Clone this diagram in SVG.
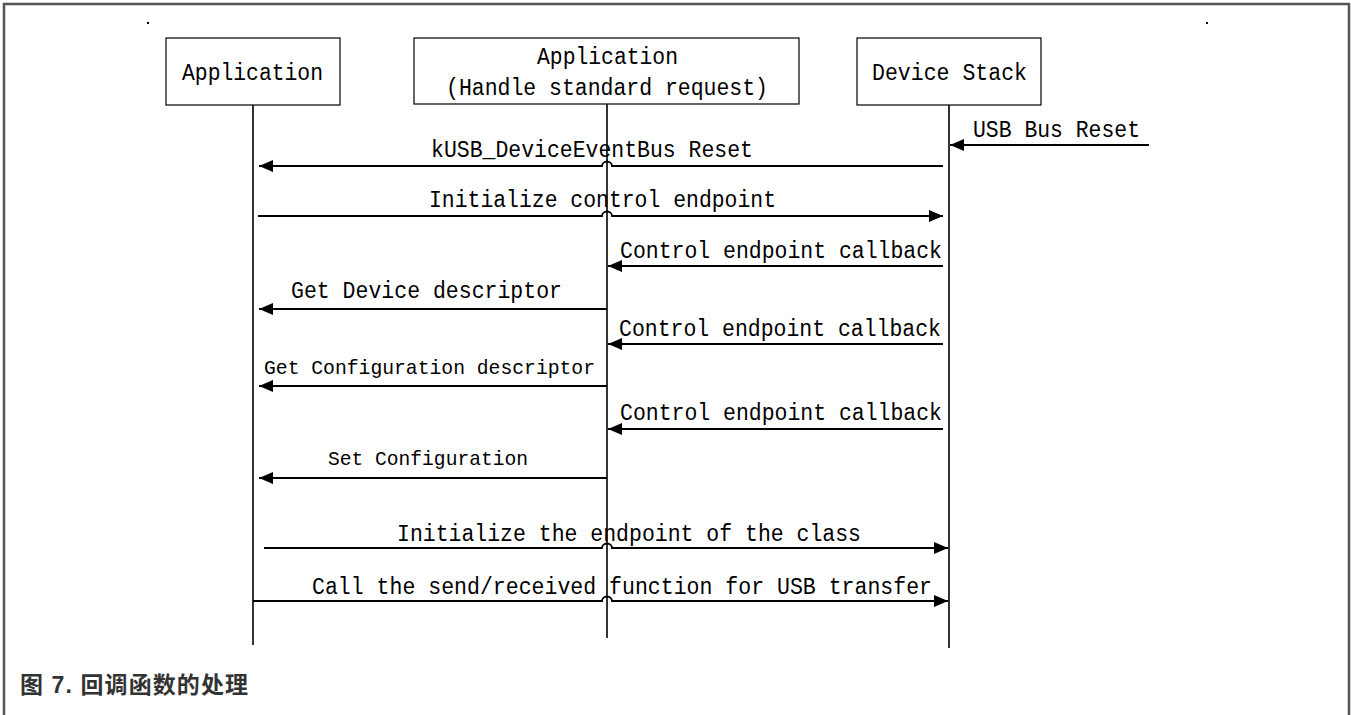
<svg xmlns="http://www.w3.org/2000/svg" width="1351" height="715" viewBox="0 0 1351 715">
<style>
.box{fill:#fff;stroke:#000;stroke-width:1.2}
.life{stroke:#000;stroke-width:1.6;fill:none}
.msg{stroke:#000;stroke-width:1.8;fill:none}
.t{font-family:"Liberation Mono",monospace;font-size:23px;fill:#000}
.ts{font-family:"Liberation Mono",monospace;font-size:21px;fill:#000}
.cap{font-family:"Liberation Sans","Noto Sans CJK SC",sans-serif;font-size:23px;font-weight:bold;fill:#333}
</style>
<defs>
<marker id="ah" markerUnits="userSpaceOnUse" markerWidth="15" markerHeight="12" refX="14" refY="6" orient="auto">
<path d="M0,0 L14,6 L0,12 Z" fill="#000"/>
</marker>
</defs>
<rect x="0" y="0" width="1351" height="715" fill="#fff"/>
<rect x="4" y="4" width="1345" height="730" fill="none" stroke="#555" stroke-width="2.5"/>
<rect x="147" y="22" width="2" height="2" fill="#000"/>
<rect x="1206" y="22" width="2" height="2" fill="#000"/>

<g id="node-app">
<rect class="box" x="166" y="38" width="174" height="67"/>
<text class="t" x="182" y="80" textLength="141" lengthAdjust="spacingAndGlyphs">Application</text>
<line class="life" x1="253" y1="105" x2="253" y2="645"/>
</g>
<g id="node-app-std">
<rect class="box" x="414" y="38" width="385" height="66"/>
<text class="t" x="537" y="64" textLength="141" lengthAdjust="spacingAndGlyphs">Application</text>
<text class="t" x="446" y="95" textLength="322" lengthAdjust="spacingAndGlyphs">(Handle standard request)</text>
<line class="life" x1="607" y1="104" x2="607" y2="638"/>
</g>
<g id="node-stack">
<rect class="box" x="857" y="38" width="184" height="67"/>
<text class="t" x="872" y="80" textLength="155" lengthAdjust="spacingAndGlyphs">Device Stack</text>
<line class="life" x1="949" y1="105" x2="949" y2="648"/>
</g>

<g id="connectors">
<path class="msg" d="M1149,145 H950" marker-end="url(#ah)"/>
<path class="msg" d="M943,166 H612 A5,4.5 0 0 0 602,166 H259" marker-end="url(#ah)"/>
<path class="msg" d="M258,216 H602 A5,4.5 0 0 1 612,216 H943" marker-end="url(#ah)"/>
<path class="msg" d="M943,266 H608" marker-end="url(#ah)"/>
<path class="msg" d="M607,309 H259" marker-end="url(#ah)"/>
<path class="msg" d="M943,344 H608" marker-end="url(#ah)"/>
<path class="msg" d="M607,386 H259" marker-end="url(#ah)"/>
<path class="msg" d="M943,429 H608" marker-end="url(#ah)"/>
<path class="msg" d="M607,478 H259" marker-end="url(#ah)"/>
<path class="msg" d="M264,548 H602 A5,4.5 0 0 1 612,548 H948" marker-end="url(#ah)"/>
<path class="msg" d="M253,601 H602 A5,4.5 0 0 1 612,601 H948" marker-end="url(#ah)"/>
</g>

<g id="labels">
<text class="t" x="973" y="137" textLength="167" lengthAdjust="spacingAndGlyphs">USB Bus Reset</text>
<text class="t" x="431" y="157" textLength="322" lengthAdjust="spacingAndGlyphs">kUSB_DeviceEventBus Reset</text>
<text class="t" x="429" y="207" textLength="347" lengthAdjust="spacingAndGlyphs">Initialize control endpoint</text>
<text class="t" x="620" y="258" textLength="322" lengthAdjust="spacingAndGlyphs">Control endpoint callback</text>
<text class="t" x="291" y="298" textLength="271" lengthAdjust="spacingAndGlyphs">Get Device descriptor</text>
<text class="t" x="619" y="336" textLength="322" lengthAdjust="spacingAndGlyphs">Control endpoint callback</text>
<text class="ts" x="264" y="374" textLength="331" lengthAdjust="spacingAndGlyphs">Get Configuration descriptor</text>
<text class="t" x="620" y="420" textLength="322" lengthAdjust="spacingAndGlyphs">Control endpoint callback</text>
<text class="ts" x="328" y="465" textLength="200" lengthAdjust="spacingAndGlyphs">Set Configuration</text>
<text class="t" x="397" y="541" textLength="464" lengthAdjust="spacingAndGlyphs">Initialize the endpoint of the class</text>
<text class="t" x="312" y="594" textLength="620" lengthAdjust="spacingAndGlyphs">Call the send/received function for USB transfer</text>
</g>

<text class="cap" x="20" y="693" textLength="228">图 7. 回调函数的处理</text>
</svg>
